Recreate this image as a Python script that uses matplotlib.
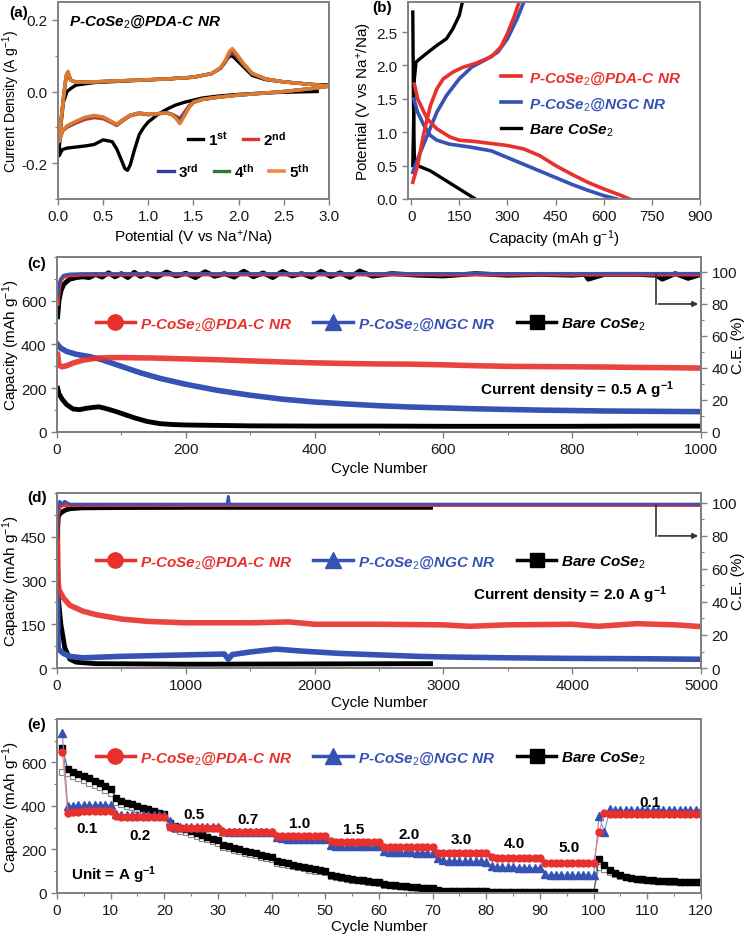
import matplotlib
matplotlib.use("Agg")
import matplotlib.pyplot as plt
from matplotlib.lines import Line2D
from matplotlib.ticker import MultipleLocator

plt.rcParams['font.family'] = ['Liberation Sans', 'DejaVu Sans']
plt.rcParams['font.size'] = 11
plt.rcParams['axes.unicode_minus'] = False
plt.rcParams['mathtext.fontset'] = 'custom'
plt.rcParams['mathtext.rm'] = 'Liberation Sans'
plt.rcParams['mathtext.it'] = 'Liberation Sans:italic:bold'
plt.rcParams['mathtext.bf'] = 'Liberation Sans:bold'
plt.rcParams['mathtext.default'] = 'regular'

RED = '#e8302c'
BLUE = '#3552b4'
BLACK = '#000000'
GRAY = '#808080'

LAB_PDA = r'P-CoSe$_\mathit{2}$@PDA-C NR'
LAB_NGC = r'P-CoSe$_\mathit{2}$@NGC NR'
LAB_BARE = r'Bare CoSe$_\mathit{2}$'

# ---------------- (a) CV curves ----------------
cv_v = [3.0, 2.8, 2.5, 2.2, 2.0, 1.8, 1.6, 1.5, 1.45, 1.4, 1.35, 1.3, 1.25, 1.2,
        1.1, 1.0, 0.9, 0.8, 0.7, 0.65, 0.6, 0.5, 0.4, 0.3, 0.2, 0.1, 0.05, 0.01,
        0.03, 0.06, 0.09, 0.11, 0.14, 0.2, 0.4, 0.8, 1.2, 1.5, 1.7, 1.8, 1.85,
        1.9, 1.93, 1.97, 2.05, 2.15, 2.3, 2.5, 2.8, 3.0]
cv_2nd = [0.015, 0.008, 0.0, -0.006, -0.01, -0.015, -0.022, -0.03, -0.04, -0.058,
          -0.075, -0.068, -0.062, -0.06, -0.062, -0.065, -0.062, -0.068, -0.085,
          -0.095, -0.088, -0.076, -0.073, -0.078, -0.088, -0.1, -0.11, -0.14,
          -0.09, -0.02, 0.04, 0.052, 0.032, 0.026, 0.027, 0.031, 0.035, 0.04, 0.05,
          0.065, 0.08, 0.103, 0.108, 0.1, 0.075, 0.05, 0.035, 0.027, 0.02, 0.015]
cv_3rd = [0.015, 0.008, 0.0, -0.006, -0.01, -0.015, -0.022, -0.03, -0.042, -0.062,
          -0.08, -0.07, -0.063, -0.06, -0.062, -0.064, -0.06, -0.066, -0.083,
          -0.093, -0.086, -0.073, -0.069, -0.074, -0.085, -0.098, -0.11, -0.14,
          -0.09, -0.02, 0.042, 0.054, 0.032, 0.026, 0.027, 0.031, 0.035, 0.04, 0.05,
          0.066, 0.082, 0.108, 0.113, 0.103, 0.077, 0.05, 0.035, 0.027, 0.02, 0.015]
cv_4th = [0.015, 0.008, 0.0, -0.006, -0.01, -0.015, -0.022, -0.03, -0.044, -0.066,
          -0.087, -0.072, -0.063, -0.06, -0.062, -0.064, -0.06, -0.066, -0.082,
          -0.092, -0.085, -0.072, -0.068, -0.073, -0.084, -0.097, -0.11, -0.14,
          -0.09, -0.02, 0.043, 0.055, 0.032, 0.026, 0.027, 0.031, 0.035, 0.04, 0.05,
          0.066, 0.083, 0.11, 0.116, 0.105, 0.078, 0.05, 0.035, 0.027, 0.02, 0.015]
cv_5th = [0.015, 0.008, 0.0, -0.006, -0.01, -0.015, -0.022, -0.03, -0.045, -0.068,
          -0.09, -0.073, -0.063, -0.06, -0.062, -0.064, -0.06, -0.066, -0.082,
          -0.092, -0.085, -0.071, -0.067, -0.072, -0.083, -0.096, -0.11, -0.14,
          -0.09, -0.02, 0.045, 0.056, 0.032, 0.026, 0.027, 0.031, 0.035, 0.04, 0.05,
          0.067, 0.085, 0.113, 0.12, 0.107, 0.08, 0.051, 0.035, 0.027, 0.02, 0.015]
cv1_v = [2.87, 2.5, 2.2, 2.0, 1.8, 1.6, 1.5, 1.4, 1.3, 1.2, 1.1, 1.0, 0.95, 0.9,
         0.85, 0.8, 0.77, 0.74, 0.7, 0.65, 0.6, 0.5, 0.4, 0.3, 0.2, 0.1, 0.05, 0.01,
         0.03, 0.06, 0.1, 0.15, 0.2, 0.4, 0.8, 1.2, 1.5, 1.7, 1.8, 1.85, 1.9, 1.93,
         1.97, 2.05, 2.15, 2.3, 2.5, 2.8, 3.0]
cv_1st = [0.0, -0.002, -0.005, -0.008, -0.012, -0.018, -0.024, -0.03, -0.038, -0.05,
          -0.065, -0.085, -0.1, -0.12, -0.16, -0.205, -0.22, -0.215, -0.19, -0.16,
          -0.14, -0.135, -0.148, -0.152, -0.155, -0.158, -0.162, -0.18,
          -0.1, -0.03, 0.0, 0.01, 0.018, 0.025, 0.03, 0.035, 0.04, 0.05, 0.065,
          0.085, 0.098, 0.1, 0.09, 0.07, 0.045, 0.033, 0.027, 0.02, 0.018]

# ---------------- (b) charge/discharge ----------------
pda_dis_q = [10, 20, 50, 80, 120, 150, 200, 250, 300, 350, 400, 450, 500, 550, 600, 650, 680]
pda_dis_v = [1.72, 1.5, 1.2, 1.05, 0.93, 0.88, 0.86, 0.83, 0.8, 0.75, 0.65, 0.5, 0.37, 0.25, 0.15, 0.06, 0.0]
pda_chg_q = [5, 20, 40, 60, 80, 100, 130, 160, 200, 250, 280, 300, 320, 340]
pda_chg_v = [0.25, 0.5, 1.0, 1.4, 1.65, 1.8, 1.9, 1.97, 2.03, 2.13, 2.28, 2.48, 2.72, 3.0]
ngc_dis_q = [8, 20, 40, 60, 80, 120, 180, 250, 300, 350, 400, 450, 500, 550, 600, 640]
ngc_dis_v = [1.5, 1.3, 1.1, 0.95, 0.88, 0.82, 0.78, 0.72, 0.62, 0.52, 0.42, 0.32, 0.22, 0.13, 0.05, 0.0]
ngc_chg_q = [5, 20, 50, 80, 110, 150, 190, 230, 270, 300, 330, 355]
ngc_chg_v = [0.4, 0.6, 0.95, 1.3, 1.55, 1.8, 1.98, 2.08, 2.2, 2.4, 2.7, 3.0]
bare_dis_q = [5, 7, 10, 20, 60, 100, 150, 200]
bare_dis_v = [2.8, 1.5, 0.55, 0.5, 0.42, 0.3, 0.15, 0.0]
bare_chg_q = [5, 10, 15, 40, 80, 110, 130, 150, 162]
bare_chg_v = [0.5, 1.8, 2.05, 2.15, 2.3, 2.4, 2.55, 2.75, 3.0]

# ---------------- (c) cycling at 0.5 A/g ----------------
c_pda_n = [1, 3, 8, 15, 25, 40, 60, 80, 100, 150, 200, 250, 300, 350, 400, 450,
           500, 550, 600, 650, 700, 750, 800, 850, 900, 950, 1000]
c_pda_q = [355, 305, 298, 303, 315, 328, 337, 340, 340, 338, 334, 330, 325, 320,
           316, 313, 311, 310, 307, 303, 300, 299, 298, 297, 295, 294, 292]
c_ngc_n = [1, 5, 15, 30, 50, 70, 100, 130, 160, 200, 250, 300, 350, 400, 450, 500,
           550, 600, 650, 700, 750, 800, 850, 900, 950, 1000]
c_ngc_q = [400, 385, 368, 355, 345, 330, 300, 270, 245, 218, 190, 168, 150, 137,
           128, 120, 114, 110, 106, 103, 100, 98, 96, 95, 94, 93]
c_bare_n = [1, 3, 8, 15, 25, 35, 45, 55, 65, 75, 90, 105, 120, 140, 160, 180, 200,
            250, 300, 400, 500, 600, 700, 800, 900, 1000]
c_bare_q = [200, 175, 150, 125, 105, 102, 108, 112, 115, 108, 95, 80, 65, 48, 38,
            34, 32, 30, 28, 27, 27, 26, 26, 26, 27, 27]
c_pda_ce_n = [1, 3, 6, 10, 20, 40, 100, 300, 500, 700, 1000]
c_pda_ce = [80, 90, 95, 97, 98, 98.5, 98.5, 98.5, 98.5, 98.5, 98.5]
c_ngc_ce_n = [1, 3, 6, 10, 20, 50, 1000]
c_ngc_ce = [84, 92, 96, 98, 98.8, 99, 99.2]
c_bare_ce_n = [1, 3, 6, 10, 15, 20, 30, 40, 50, 60, 70, 80, 90, 100, 110, 120, 130,
               140, 155, 170, 185, 200, 215, 230, 245, 260, 275, 290, 305, 320, 335,
               350, 365, 380, 395, 410, 425, 440, 455, 470, 490, 520, 560, 600, 650,
               700, 750, 800, 820, 825, 850, 900, 930, 940, 960, 980, 1000]
c_bare_ce = [72, 82, 88, 92, 94, 95.5, 96.5, 97, 96.5, 98.5, 96.8, 99.5, 97, 99,
             96.5, 99.8, 97.2, 99, 96.8, 100, 97.5, 99.2, 96.5, 100.2, 97.3, 99,
             96.8, 100.5, 97, 99.4, 96.5, 100.3, 97.5, 99, 96.8, 100.4, 97.2, 99.5,
             96.6, 100.6, 97.4, 99, 98, 97.5, 99, 98, 98.5, 98, 98.5, 95.5, 98.5,
             98.5, 98, 95.5, 99, 96, 98.5]

# ---------------- (d) cycling at 2.0 A/g ----------------
d_pda_n = [1, 4, 8, 15, 50, 100, 200, 300, 500, 700, 1000, 1500, 1800, 2000, 2500,
           3000, 3200, 3500, 4000, 4200, 4500, 4800, 5000]
d_pda_q = [560, 420, 300, 268, 240, 215, 195, 183, 168, 160, 155, 155, 158, 150,
           150, 148, 143, 148, 150, 143, 152, 148, 142]
d_ngc_n = [1, 3, 6, 10, 50, 100, 200, 500, 800, 1000, 1300, 1330, 1360, 1500, 1700,
           1900, 2200, 2500, 2800, 3000, 3500, 4000, 4500, 5000]
d_ngc_q = [520, 300, 120, 65, 50, 40, 35, 40, 43, 45, 48, 30, 46, 55, 65, 58, 50,
           45, 40, 38, 35, 33, 32, 30]
d_bare_n = [1, 5, 10, 30, 60, 100, 150, 300, 1000, 2000, 2900]
d_bare_q = [440, 330, 240, 150, 70, 30, 20, 15, 13, 14, 15]
d_pda_ce_n = [1, 5, 20, 50, 5000]
d_pda_ce = [70, 92, 98, 98.8, 98.8]
d_ngc_ce_n = [1, 5, 20, 40, 60, 100, 1320, 1330, 1340, 5000]
d_ngc_ce = [80, 95, 101, 99.5, 101, 99.2, 99.2, 104, 99.2, 99.2]
d_bare_ce_n = [1, 10, 30, 60, 100, 200, 500, 1000, 2000, 2900]
d_bare_ce = [80, 92, 94, 95.5, 96.5, 97, 97.2, 97.3, 97.3, 97.3]

# ---------------- (e) rate capability ----------------
e_cycle = list(range(1, 121))
e_pda = [650, 370, 372, 374, 375, 376, 377, 378, 378, 379,
         352, 350, 350, 350, 350, 350, 350, 350, 350, 350,
         305, 302, 300, 300, 300, 300, 300, 300, 300, 300,
         282, 280, 280, 280, 280, 280, 280, 280, 280, 280,
         262, 260, 260, 260, 260, 260, 260, 260, 260, 260,
         238, 236, 235, 235, 235, 235, 235, 235, 235, 235,
         212, 211, 210, 210, 210, 210, 210, 210, 210, 210,
         186, 185, 185, 185, 185, 185, 185, 185, 185, 185,
         165, 163, 162, 162, 162, 162, 161, 161, 161, 160,
         140, 138, 138, 138, 137, 137, 137, 137, 137, 137,
         280, 368, 365, 365, 365, 365, 365, 365, 365, 365,
         365, 365, 365, 365, 365, 365, 365, 365, 365, 365]
e_ngc = [735, 402, 402, 403, 403, 403, 404, 404, 404, 404,
         362, 360, 360, 360, 360, 360, 360, 360, 360, 360,
         330, 305, 305, 305, 305, 305, 305, 305, 305, 305,
         285, 282, 282, 282, 282, 282, 282, 282, 282, 282,
         258, 252, 250, 250, 250, 250, 250, 250, 250, 250,
         222, 218, 218, 218, 218, 218, 218, 218, 218, 218,
         195, 190, 188, 188, 187, 187, 186, 186, 186, 185,
         160, 150, 148, 147, 146, 146, 145, 145, 145, 144,
         124, 120, 119, 118, 118, 117, 117, 116, 116, 116,
         86, 84, 83, 83, 83, 82, 82, 82, 82, 82,
         355, 280, 386, 382, 381, 380, 380, 380, 380, 380,
         380, 380, 380, 380, 380, 380, 380, 380, 380, 380]
e_bare = [665, 570, 558, 548, 538, 528, 515, 505, 492, 478,
          435, 425, 415, 408, 400, 392, 385, 378, 370, 362,
          320, 310, 300, 292, 283, 275, 266, 258, 250, 242,
          222, 215, 208, 200, 194, 188, 182, 176, 170, 164,
          148, 142, 136, 130, 125, 120, 115, 110, 105, 100,
          82, 78, 74, 70, 66, 62, 58, 55, 52, 49,
          40, 37, 35, 33, 31, 29, 27, 25, 23, 21,
          12, 11, 10, 10, 9, 9, 8, 8, 8, 7,
          6, 6, 6, 5, 5, 5, 5, 5, 5, 5,
          4, 4, 4, 4, 4, 3, 3, 3, 3, 3,
          156, 129, 105, 92, 82, 75, 70, 66, 63, 62,
          58, 56, 55, 54, 53, 52, 52, 51, 51, 50]
e_bare_chg = [555, 550, 538, 528, 518, 508, 497, 486, 474, 462,
              420, 410, 401, 394, 386, 378, 371, 364, 356, 348,
              305, 296, 287, 279, 271, 263, 255, 247, 239, 231,
              212, 205, 198, 191, 185, 179, 173, 167, 161, 155,
              140, 134, 128, 123, 118, 113, 108, 103, 99, 95,
              77, 73, 69, 66, 62, 58, 55, 52, 49, 46,
              37, 35, 33, 31, 29, 27, 25, 23, 21, 19,
              11, 10, 9, 9, 8, 8, 7, 7, 7, 6,
              5, 5, 5, 5, 4, 4, 4, 4, 4, 4,
              3, 3, 3, 3, 3, 3, 3, 3, 3, 3,
              120, 110, 95, 86, 78, 72, 67, 63, 61, 59,
              56, 54, 53, 52, 51, 51, 50, 50, 49, 49]
rate_labels = ['0.1', '0.2', '0.5', '0.7', '1.0', '1.5', '2.0', '3.0', '4.0', '5.0', '0.1']
rate_label_x = [5.5, 15.5, 25.5, 35.5, 45.3, 55.3, 65.6, 75.3, 85.3, 95.5, 110.5]
rate_label_y = [300, 265, 362, 342, 320, 292, 272, 250, 230, 210, 418]


def style_axes(ax):
    for sp in ax.spines.values():
        sp.set_color(GRAY)
        sp.set_linewidth(1.4)
    ax.tick_params(which='both', direction='out', color=GRAY, labelcolor='#1a1a1a',
                   labelsize=11)
    ax.tick_params(which='major', length=4, width=1)
    ax.tick_params(which='minor', length=2.5, width=0.8)


def legend_handles():
    return [Line2D([], [], color=RED, lw=2.5, marker='o', ms=11),
            Line2D([], [], color=BLUE, lw=2.5, marker='^', ms=11),
            Line2D([], [], color=BLACK, lw=2.5, marker='s', ms=10)]


def cycle_legend(ax, y):
    ax.legend(legend_handles(), [LAB_PDA, LAB_NGC, LAB_BARE], ncol=3,
              loc='center left', bbox_to_anchor=(0.06, y), frameon=False,
              prop={'weight': 'bold', 'style': 'italic', 'size': 11},
              labelcolor=[RED, BLUE, BLACK], handlelength=2.6, handletextpad=0.3,
              columnspacing=1.4, borderpad=0, borderaxespad=0)


fig = plt.figure(figsize=(7.49, 9.37), dpi=100)

# ---- (a)
ax = fig.add_axes([0.0774, 0.7866, 0.3618, 0.2102])
ax.plot(cv1_v, cv_1st, color=BLACK, lw=2.4, label=r'1$^\mathbf{st}$')
ax.plot(cv_v, cv_2nd, color='#e5303a', lw=2.4, label=r'2$^\mathbf{nd}$')
ax.plot(cv_v, cv_3rd, color='#2b3f9e', lw=2.4, label=r'3$^\mathbf{rd}$')
ax.plot(cv_v, cv_4th, color='#2f7a38', lw=2.4, label=r'4$^\mathbf{th}$')
ax.plot(cv_v, cv_5th, color='#f07a30', lw=2.6, alpha=0.9, label=r'5$^\mathbf{th}$')
ax.set_xlim(0, 3.0)
ax.set_ylim(-0.3, 0.25)
ax.set_xticks([0.0, 0.5, 1.0, 1.5, 2.0, 2.5, 3.0])
ax.set_yticks([-0.2, 0.0, 0.2])
ax.yaxis.set_minor_locator(MultipleLocator(0.1))
ax.set_xlabel(r'Potential (V vs Na$^{+}$/Na)', fontsize=11, labelpad=3)
ax.set_ylabel(r'Current Density (A g$^{-1}$)', fontsize=10)
ax.yaxis.set_label_coords(-0.133, 0.5)
style_axes(ax)
h, l = ax.get_legend_handles_labels()
leg1 = ax.legend(h[:2], l[:2], ncol=2, loc='center left', bbox_to_anchor=(0.48, 0.305),
                 frameon=False, prop={'weight': 'bold', 'size': 11}, handlelength=1.0,
                 handletextpad=0.3, columnspacing=1.0, borderpad=0, borderaxespad=0)
ax.add_artist(leg1)
ax.legend(h[2:], l[2:], ncol=3, loc='center left', bbox_to_anchor=(0.37, 0.145),
          frameon=False, prop={'weight': 'bold', 'size': 11}, handlelength=1.0,
          handletextpad=0.3, columnspacing=1.0, borderpad=0, borderaxespad=0)
ax.text(0.04, 0.905, LAB_PDA, transform=ax.transAxes, fontsize=11, fontweight='bold',
        fontstyle='italic', va='center', ha='left')
fig.text(0.013, 0.986, '(a)', fontsize=11, fontweight='bold', va='center')

# ---- (b)
ax = fig.add_axes([0.5447, 0.7866, 0.3899, 0.2102])
ax.plot(bare_dis_q, bare_dis_v, color=BLACK, lw=2.4)
ax.plot(bare_chg_q, bare_chg_v, color=BLACK, lw=2.4, label=LAB_BARE)
ax.plot(ngc_dis_q, ngc_dis_v, color=BLUE, lw=2.6)
ax.plot(ngc_chg_q, ngc_chg_v, color=BLUE, lw=2.6, label=LAB_NGC)
ax.plot(pda_dis_q, pda_dis_v, color=RED, lw=2.6)
ax.plot(pda_chg_q, pda_chg_v, color=RED, lw=2.6, label=LAB_PDA)
ax.set_xlim(-10, 900)
ax.set_ylim(0, 2.95)
ax.set_xticks(range(0, 901, 150))
ax.set_yticks([0.0, 0.5, 1.0, 1.5, 2.0, 2.5])
ax.set_yticklabels(['0.0', '0.5', '1.0', '1.5', '2.0', '2.5'])
ax.set_xlabel(r'Capacity (mAh g$^{-1}$)', fontsize=11, labelpad=3)
ax.set_ylabel(r'Potential (V vs Na$^{+}$/Na)', fontsize=11)
ax.yaxis.set_label_coords(-0.118, 0.5)
style_axes(ax)
h, l = ax.get_legend_handles_labels()
ax.legend(h[::-1], l[::-1], loc='upper left', bbox_to_anchor=(0.32, 0.66), frameon=False,
          prop={'weight': 'bold', 'style': 'italic', 'size': 11},
          labelcolor=[RED, BLUE, BLACK], handlelength=1.3, handletextpad=0.5,
          labelspacing=0.62, borderpad=0, borderaxespad=0)
fig.text(0.497, 0.991, '(b)', fontsize=11, fontweight='bold', va='center')

# ---- (c)
ax = fig.add_axes([0.0761, 0.5379, 0.8598, 0.1868])
ax2 = ax.twinx()
ax.plot(c_bare_n, c_bare_q, color=BLACK, lw=3.5)
ax.plot(c_ngc_n, c_ngc_q, color=BLUE, lw=4)
ax.plot(c_pda_n, c_pda_q, color=RED, lw=4, alpha=0.9)
ax2.plot(c_bare_ce_n, c_bare_ce, color=BLACK, lw=3.5)
ax2.plot(c_pda_ce_n, c_pda_ce, color=RED, lw=3)
ax2.plot(c_ngc_ce_n, c_ngc_ce, color=BLUE, lw=2)
ax2.plot([930, 930], [98.5, 80], color='#333333', lw=1.2)
ax2.annotate('', xy=(1000, 80), xytext=(929.5, 80),
             arrowprops=dict(arrowstyle='-|>', color='#333333', lw=1.2, mutation_scale=8))
ax.set_xlim(0, 1000)
ax.set_ylim(0, 800)
ax2.set_ylim(0, 109.4)
ax.set_yticks([0, 200, 400, 600])
ax.yaxis.set_minor_locator(MultipleLocator(100))
ax.xaxis.set_minor_locator(MultipleLocator(100))
ax2.set_yticks([0, 20, 40, 60, 80, 100])
ax2.yaxis.set_minor_locator(MultipleLocator(10))
ax.set_xlabel('Cycle Number', fontsize=11, labelpad=3)
ax.set_ylabel(r'Capacity (mAh g$^{-1}$)', fontsize=11)
ax.yaxis.set_label_coords(-0.055, 0.5)
ax2.set_ylabel('C.E. (%)', fontsize=11)
ax2.yaxis.set_label_coords(1.047, 0.5)
style_axes(ax)
style_axes(ax2)
cycle_legend(ax, 0.62)
ax.text(0.958, 0.245, r'Current density = 0.5 A g$^\mathbf{-1}$', transform=ax.transAxes,
        fontsize=11, fontweight='bold', ha='right', va='center')
fig.text(0.036, 0.718, '(c)', fontsize=11, fontweight='bold', va='center')

# ---- (d)
ax = fig.add_axes([0.0761, 0.2860, 0.8598, 0.1868])
ax2 = ax.twinx()
ax.plot(d_bare_n, d_bare_q, color=BLACK, lw=3.5)
ax.plot(d_ngc_n, d_ngc_q, color=BLUE, lw=4)
ax.plot(d_pda_n, d_pda_q, color=RED, lw=4, alpha=0.9)
ax2.plot(d_bare_ce_n, d_bare_ce, color=BLACK, lw=3.5)
ax2.plot(d_pda_ce_n, d_pda_ce, color=RED, lw=3)
ax2.plot(d_ngc_ce_n, d_ngc_ce, color=BLUE, lw=2)
ax2.plot([4650, 4650], [98.5, 80], color='#333333', lw=1.2)
ax2.annotate('', xy=(5000, 80), xytext=(4647, 80),
             arrowprops=dict(arrowstyle='-|>', color='#333333', lw=1.2, mutation_scale=8))
ax.set_xlim(0, 5000)
ax.set_ylim(0, 600)
ax2.set_ylim(0, 106)
ax.set_yticks([0, 150, 300, 450])
ax.yaxis.set_minor_locator(MultipleLocator(75))
ax.xaxis.set_minor_locator(MultipleLocator(500))
ax2.set_yticks([0, 20, 40, 60, 80, 100])
ax2.yaxis.set_minor_locator(MultipleLocator(10))
ax.set_xlabel('Cycle Number', fontsize=11, labelpad=2)
ax.set_ylabel(r'Capacity (mAh g$^{-1}$)', fontsize=11)
ax.yaxis.set_label_coords(-0.055, 0.5)
ax2.set_ylabel('C.E. (%)', fontsize=11)
ax2.yaxis.set_label_coords(1.047, 0.5)
style_axes(ax)
style_axes(ax2)
cycle_legend(ax, 0.61)
ax.text(0.948, 0.42, r'Current density = 2.0 A g$^\mathbf{-1}$', transform=ax.transAxes,
        fontsize=11, fontweight='bold', ha='right', va='center')
fig.text(0.036, 0.469, '(d)', fontsize=11, fontweight='bold', va='center')

# ---- (e)
ax = fig.add_axes([0.0761, 0.0459, 0.8598, 0.1857])
ax.plot(e_cycle, e_bare_chg, color='#aaaaaa', lw=0.8, marker='s', ms=4.5,
        mfc='white', mec='#888888', mew=0.8)
ax.plot(e_cycle, e_bare, color='#555555', lw=0.8, marker='s', ms=4.5,
        mfc=BLACK, mec=BLACK)
ax.plot(e_cycle, e_ngc, color='#7d8fd0', lw=0.8, marker='^', ms=5.5,
        mfc=BLUE, mec=BLUE)
ax.plot(e_cycle, e_pda, color='#f08080', lw=0.8, marker='o', ms=5,
        mfc=RED, mec=RED)
for txt, xx, yy in zip(rate_labels, rate_label_x, rate_label_y):
    ax.text(xx, yy, txt, fontsize=11, fontweight='bold', ha='center', va='center')
ax.text(2.6, 88, r'Unit = A g$^\mathbf{-1}$', fontsize=11, fontweight='bold',
        ha='left', va='center')
ax.set_xlim(0, 120)
ax.set_ylim(0, 800)
ax.set_xticks(range(0, 121, 10))
ax.set_yticks([0, 200, 400, 600])
ax.yaxis.set_minor_locator(MultipleLocator(100))
ax.xaxis.set_minor_locator(MultipleLocator(5))
ax.set_xlabel('Cycle Number', fontsize=11, labelpad=1)
ax.set_ylabel(r'Capacity (mAh g$^{-1}$)', fontsize=11)
ax.yaxis.set_label_coords(-0.055, 0.5)
style_axes(ax)
cycle_legend(ax, 0.78)
fig.text(0.036, 0.226, '(e)', fontsize=11, fontweight='bold', va='center')

fig.savefig('out.png', dpi=100)
